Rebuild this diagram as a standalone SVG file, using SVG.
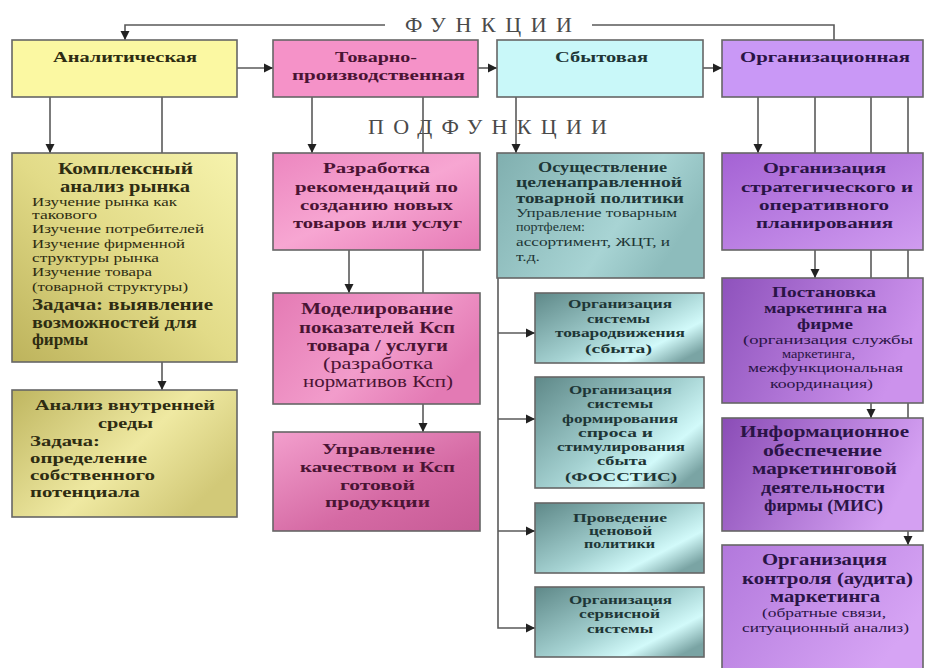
<svg xmlns="http://www.w3.org/2000/svg" width="925" height="668" viewBox="0 0 925 668">
<defs>
<style>
.box{stroke:#666;stroke-width:1.6}
.t{font-family:"Liberation Serif","Times New Roman",serif;font-weight:bold}
.s{font-family:"Liberation Serif","Times New Roman",serif;font-weight:normal}
.cy{fill:#2e2c12}
.cp{fill:#4a1434}
.ct{fill:#1e3636}
.cv{fill:#2a1446}
.hd{font-family:"Liberation Serif","Times New Roman",serif;fill:#4a4a4a;font-size:22px}
.ln{fill:none;stroke:#5a5a5a;stroke-width:1.6}
.ar{fill:none;stroke:#5a5a5a;stroke-width:1.6;marker-end:url(#ah)}
</style>
<marker id="ah" markerWidth="10" markerHeight="10" refX="9" refY="5" orient="auto" markerUnits="userSpaceOnUse">
<path d="M0,0.5 L9,5 L0,9.5 z" fill="#222"/>
</marker>
<linearGradient id="gy1" x1="1" y1="0" x2="0" y2="1">
<stop offset="0" stop-color="#f6f3ad"/><stop offset="0.5" stop-color="#e2db88"/><stop offset="1" stop-color="#bdb35c"/>
</linearGradient>
<linearGradient id="gy2" x1="0" y1="0" x2="1" y2="0.6">
<stop offset="0" stop-color="#bfb660"/><stop offset="0.6" stop-color="#efe9a2"/><stop offset="1" stop-color="#d2c978"/>
</linearGradient>
<linearGradient id="gp1" x1="0" y1="0" x2="1" y2="1">
<stop offset="0" stop-color="#ec86bf"/><stop offset="0.5" stop-color="#f7a6d2"/><stop offset="1" stop-color="#e67bb6"/>
</linearGradient>
<linearGradient id="gp2" x1="0" y1="0" x2="1" y2="0.5">
<stop offset="0" stop-color="#e47ab4"/><stop offset="0.6" stop-color="#f29ccb"/><stop offset="1" stop-color="#e37ab4"/>
</linearGradient>
<linearGradient id="gp3" x1="0" y1="0" x2="1" y2="1">
<stop offset="0" stop-color="#f39fcd"/><stop offset="0.6" stop-color="#d56aa4"/><stop offset="1" stop-color="#c75b96"/>
</linearGradient>
<linearGradient id="gt1" x1="0" y1="0" x2="1" y2="0.4">
<stop offset="0" stop-color="#80afaf"/><stop offset="0.7" stop-color="#a8d4d4"/><stop offset="1" stop-color="#8dbcbc"/>
</linearGradient>
<linearGradient id="gt2" x1="0" y1="0" x2="1" y2="0.8">
<stop offset="0" stop-color="#5e8888"/><stop offset="0.55" stop-color="#a5d2d2"/><stop offset="0.8" stop-color="#d2fafa"/><stop offset="1" stop-color="#7aa4a4"/>
</linearGradient>
<linearGradient id="gv1" x1="0" y1="0" x2="1" y2="1">
<stop offset="0" stop-color="#a462d4"/><stop offset="1" stop-color="#d09cf0"/>
</linearGradient>
<linearGradient id="gv2" x1="0" y1="0" x2="1" y2="0.3">
<stop offset="0" stop-color="#8e52bc"/><stop offset="1" stop-color="#cc92ec"/>
</linearGradient>
<linearGradient id="gv3" x1="0" y1="0" x2="1" y2="0.3">
<stop offset="0" stop-color="#8a4cb6"/><stop offset="1" stop-color="#d4a0f2"/>
</linearGradient>
<linearGradient id="gv4" x1="0" y1="0" x2="1" y2="0.5">
<stop offset="0" stop-color="#b278dc"/><stop offset="1" stop-color="#d6a4f4"/>
</linearGradient>
</defs>
<rect width="925" height="668" fill="#fff"/>

<g id="headings">
<text class="hd" x="405" y="32" textLength="167" lengthAdjust="spacing">ФУНКЦИИ</text>
<text class="hd" x="368" y="134" textLength="239" lengthAdjust="spacing">ПОДФУНКЦИИ</text>
</g>

<g id="connectors">
<polyline class="ar" points="385,25 125,25 125,40"/>
<polyline class="ln" points="592,25 834,25 834,40"/>
<line class="ar" x1="237" y1="68" x2="273" y2="68"/>
<line class="ar" x1="478" y1="68" x2="497" y2="68"/>
<line class="ar" x1="703" y1="68" x2="722" y2="68"/>
<line class="ar" x1="50" y1="97" x2="50" y2="153"/>
<line class="ln" x1="162" y1="97" x2="162" y2="153"/>
<line class="ar" x1="312" y1="97" x2="312" y2="153"/>
<line class="ln" x1="423" y1="97" x2="423" y2="153"/>
<line class="ar" x1="516" y1="97" x2="516" y2="153"/>
<line class="ar" x1="758" y1="97" x2="758" y2="153"/>
<line class="ln" x1="815" y1="97" x2="815" y2="153"/>
<line class="ln" x1="871" y1="97" x2="871" y2="153"/>
<line class="ln" x1="908" y1="97" x2="908" y2="153"/>
<line class="ar" x1="162" y1="362" x2="162" y2="390"/>
<line class="ar" x1="349" y1="250" x2="349" y2="293"/>
<line class="ln" x1="423" y1="250" x2="423" y2="293"/>
<line class="ar" x1="423" y1="404" x2="423" y2="432"/>
<polyline class="ar" points="498,278 498,628 535,628"/>
<line class="ar" x1="498" y1="333" x2="535" y2="333"/>
<line class="ar" x1="498" y1="419" x2="535" y2="419"/>
<line class="ar" x1="498" y1="531" x2="535" y2="531"/>
<line class="ar" x1="815" y1="250" x2="815" y2="278"/>
<line class="ln" x1="871" y1="250" x2="871" y2="278"/>
<line class="ln" x1="908" y1="250" x2="908" y2="278"/>
<line class="ar" x1="871" y1="403" x2="871" y2="418"/>
<line class="ln" x1="908" y1="403" x2="908" y2="418"/>
<line class="ar" x1="908" y1="531" x2="908" y2="545"/>
</g>

<g id="analytic">
<rect class="box" x="12" y="40" width="225" height="57" fill="#fbf8a2"/>
<text class="t cy" font-size="14" x="53" y="62" textLength="144" lengthAdjust="spacingAndGlyphs">Аналитическая</text>
</g>
<g id="tovarno">
<rect class="box" x="273" y="40" width="205" height="57" fill="#f592c8"/>
<text class="t cp" font-size="14" x="335" y="62" textLength="82" lengthAdjust="spacingAndGlyphs">Товарно-</text>
<text class="t cp" font-size="14" x="292" y="80" textLength="173" lengthAdjust="spacingAndGlyphs">производственная</text>
</g>
<g id="sbyt">
<rect class="box" x="497" y="40" width="206" height="57" fill="#c9f8f9"/>
<text class="t ct" font-size="14" x="555" y="62" textLength="93" lengthAdjust="spacingAndGlyphs">Сбытовая</text>
</g>
<g id="org">
<rect class="box" x="722" y="40" width="201" height="57" fill="#c998f6"/>
<text class="t cv" font-size="14" x="740" y="62" textLength="170" lengthAdjust="spacingAndGlyphs">Организационная</text>
</g>

<g id="kompleks">
<rect class="box" x="12" y="153" width="225" height="209" fill="url(#gy1)"/>
<g class="t cy" font-size="16.5">
<text x="58" y="174" textLength="135" lengthAdjust="spacingAndGlyphs">Комплексный</text>
<text x="60" y="192" textLength="130" lengthAdjust="spacingAndGlyphs">анализ рынка</text>
</g>
<g class="s cy" font-size="12.5">
<text x="32" y="206" textLength="145" lengthAdjust="spacingAndGlyphs">Изучение рынка как</text>
<text x="32" y="219" textLength="65" lengthAdjust="spacingAndGlyphs">такового</text>
<text x="32" y="233" textLength="172" lengthAdjust="spacingAndGlyphs">Изучение потребителей</text>
<text x="32" y="248" textLength="153" lengthAdjust="spacingAndGlyphs">Изучение фирменной</text>
<text x="32" y="262" textLength="127" lengthAdjust="spacingAndGlyphs">структуры рынка</text>
<text x="32" y="276" textLength="120" lengthAdjust="spacingAndGlyphs">Изучение товара</text>
<text x="32" y="291" textLength="156" lengthAdjust="spacingAndGlyphs">(товарной структуры)</text>
</g>
<g class="t cy" font-size="16">
<text x="32" y="310" textLength="181" lengthAdjust="spacingAndGlyphs">Задача: выявление</text>
<text x="32" y="328" textLength="165" lengthAdjust="spacingAndGlyphs">возможностей для</text>
<text x="32" y="345" textLength="56" lengthAdjust="spacingAndGlyphs">фирмы</text>
</g>
</g>

<g id="vnutr">
<rect class="box" x="12" y="390" width="225" height="127" fill="url(#gy2)"/>
<g class="t cy" font-size="15.5">
<text x="35" y="410" textLength="180" lengthAdjust="spacingAndGlyphs">Анализ внутренней</text>
<text x="98" y="428" textLength="55" lengthAdjust="spacingAndGlyphs">среды</text>
<text x="30" y="446" textLength="70" lengthAdjust="spacingAndGlyphs">Задача:</text>
<text x="30" y="463" textLength="117" lengthAdjust="spacingAndGlyphs">определение</text>
<text x="30" y="480" textLength="125" lengthAdjust="spacingAndGlyphs">собственного</text>
<text x="30" y="497" textLength="110" lengthAdjust="spacingAndGlyphs">потенциала</text>
</g>
</g>

<g id="razrab">
<rect class="box" x="273" y="153" width="207" height="97" fill="url(#gp1)"/>
<g class="t cp" font-size="15">
<text x="323" y="173" textLength="107" lengthAdjust="spacingAndGlyphs">Разработка</text>
<text x="295" y="192" textLength="163" lengthAdjust="spacingAndGlyphs">рекомендаций по</text>
<text x="300" y="210" textLength="153" lengthAdjust="spacingAndGlyphs">созданию новых</text>
<text x="293" y="228" textLength="169" lengthAdjust="spacingAndGlyphs">товаров или услуг</text>
</g>
</g>

<g id="model">
<rect class="box" x="273" y="293" width="207" height="111" fill="url(#gp2)"/>
<g class="t cp" font-size="16">
<text x="301" y="314" textLength="152" lengthAdjust="spacingAndGlyphs">Моделирование</text>
<text x="299" y="333" textLength="156" lengthAdjust="spacingAndGlyphs">показателей Ксп</text>
<text x="307" y="351" textLength="141" lengthAdjust="spacingAndGlyphs">товара / услуги</text>
</g>
<g class="s cp" font-size="16">
<text x="323" y="369" textLength="110" lengthAdjust="spacingAndGlyphs">(разработка</text>
<text x="303" y="387" textLength="150" lengthAdjust="spacingAndGlyphs">нормативов Ксп)</text>
</g>
</g>

<g id="upravl">
<rect class="box" x="273" y="432" width="207" height="99" fill="url(#gp3)"/>
<g class="t cp" font-size="15">
<text x="322" y="454" textLength="113" lengthAdjust="spacingAndGlyphs">Управление</text>
<text x="300" y="472" textLength="155" lengthAdjust="spacingAndGlyphs">качеством и Ксп</text>
<text x="340" y="490" textLength="75" lengthAdjust="spacingAndGlyphs">готовой</text>
<text x="325" y="507" textLength="105" lengthAdjust="spacingAndGlyphs">продукции</text>
</g>
</g>

<g id="osush">
<rect class="box" x="497" y="153" width="207" height="125" fill="url(#gt1)"/>
<g class="t ct" font-size="14">
<text x="538" y="172" textLength="129" lengthAdjust="spacingAndGlyphs">Осуществление</text>
<text x="516" y="187" textLength="166" lengthAdjust="spacingAndGlyphs">целенаправленной</text>
<text x="516" y="203" textLength="168" lengthAdjust="spacingAndGlyphs" font-size="15">товарной политики</text>
</g>
<g class="s ct" font-size="12.5">
<text x="516" y="217" textLength="161" lengthAdjust="spacingAndGlyphs">Управление товарным</text>
<text x="516" y="231" textLength="69" lengthAdjust="spacingAndGlyphs">портфелем:</text>
<text x="516" y="246" textLength="154" lengthAdjust="spacingAndGlyphs">ассортимент, ЖЦТ, и</text>
<text x="516" y="261" textLength="24" lengthAdjust="spacingAndGlyphs">т.д.</text>
</g>
</g>

<g id="tovarodv">
<rect class="box" x="535" y="293" width="169" height="70" fill="url(#gt2)"/>
<g class="t ct" font-size="12.5">
<text x="568" y="308" textLength="104" lengthAdjust="spacingAndGlyphs">Организация</text>
<text x="587" y="323" textLength="63" lengthAdjust="spacingAndGlyphs">системы</text>
<text x="555" y="337" textLength="130" lengthAdjust="spacingAndGlyphs">товародвижения</text>
<text x="585" y="353" textLength="67" lengthAdjust="spacingAndGlyphs">(сбыта)</text>
</g>
</g>

<g id="fosstis">
<rect class="box" x="535" y="377" width="169" height="111" fill="url(#gt2)"/>
<g class="t ct" font-size="12.5">
<text x="569" y="394" textLength="103" lengthAdjust="spacingAndGlyphs">Организация</text>
<text x="587" y="408" textLength="66" lengthAdjust="spacingAndGlyphs">системы</text>
<text x="562" y="423" textLength="116" lengthAdjust="spacingAndGlyphs">формирования</text>
<text x="578" y="437" textLength="75" lengthAdjust="spacingAndGlyphs">спроса и</text>
<text x="557" y="451" textLength="128" lengthAdjust="spacingAndGlyphs">стимулирования</text>
<text x="597" y="465" textLength="50" lengthAdjust="spacingAndGlyphs">сбыта</text>
<text x="565" y="481" textLength="112" lengthAdjust="spacingAndGlyphs" font-size="13.5">(ФОССТИС)</text>
</g>
</g>

<g id="cenovaya">
<rect class="box" x="535" y="503" width="169" height="70" fill="url(#gt2)"/>
<g class="t ct" font-size="12.5">
<text x="573" y="522" textLength="94" lengthAdjust="spacingAndGlyphs">Проведение</text>
<text x="589" y="535" textLength="63" lengthAdjust="spacingAndGlyphs">ценовой</text>
<text x="584" y="548" textLength="71" lengthAdjust="spacingAndGlyphs">политики</text>
</g>
</g>

<g id="servis">
<rect class="box" x="535" y="587" width="169" height="70" fill="url(#gt2)"/>
<g class="t ct" font-size="12.5">
<text x="569" y="604" textLength="103" lengthAdjust="spacingAndGlyphs">Организация</text>
<text x="579" y="618" textLength="81" lengthAdjust="spacingAndGlyphs">сервисной</text>
<text x="587" y="633" textLength="66" lengthAdjust="spacingAndGlyphs">системы</text>
</g>
</g>

<g id="strateg">
<rect class="box" x="722" y="153" width="201" height="97" fill="url(#gv1)"/>
<g class="t cv" font-size="15.5">
<text x="763" y="173" textLength="123" lengthAdjust="spacingAndGlyphs">Организация</text>
<text x="741" y="192" textLength="172" lengthAdjust="spacingAndGlyphs">стратегического и</text>
<text x="759" y="210" textLength="130" lengthAdjust="spacingAndGlyphs">оперативного</text>
<text x="756" y="228" textLength="137" lengthAdjust="spacingAndGlyphs">планирования</text>
</g>
</g>

<g id="postanovka">
<rect class="box" x="722" y="278" width="201" height="125" fill="url(#gv2)"/>
<g class="t cv" font-size="15">
<text x="772" y="297" textLength="104" lengthAdjust="spacingAndGlyphs">Постановка</text>
<text x="764" y="313" textLength="123" lengthAdjust="spacingAndGlyphs">маркетинга на</text>
<text x="797" y="329" textLength="56" lengthAdjust="spacingAndGlyphs">фирме</text>
</g>
<g class="s cv" font-size="12.5">
<text x="743" y="344" textLength="170" lengthAdjust="spacingAndGlyphs">(организация службы</text>
<text x="782" y="358" textLength="73" lengthAdjust="spacingAndGlyphs">маркетинга,</text>
<text x="748" y="372" textLength="155" lengthAdjust="spacingAndGlyphs">межфункциональная</text>
<text x="770" y="388" textLength="103" lengthAdjust="spacingAndGlyphs">координация)</text>
</g>
</g>

<g id="mis">
<rect class="box" x="722" y="418" width="201" height="113" fill="url(#gv3)"/>
<g class="t cv" font-size="16">
<text x="740" y="437" textLength="169" lengthAdjust="spacingAndGlyphs">Информационное</text>
<text x="763" y="456" textLength="119" lengthAdjust="spacingAndGlyphs">обеспечение</text>
<text x="752" y="474" textLength="145" lengthAdjust="spacingAndGlyphs">маркетинговой</text>
<text x="761" y="493" textLength="124" lengthAdjust="spacingAndGlyphs">деятельности</text>
<text x="764" y="511" textLength="119" lengthAdjust="spacingAndGlyphs">фирмы (МИС)</text>
</g>
</g>

<g id="kontrol">
<rect class="box" x="722" y="545" width="201" height="130" fill="url(#gv4)"/>
<g class="t cv" font-size="16">
<text x="762" y="565" textLength="125" lengthAdjust="spacingAndGlyphs">Организация</text>
<text x="742" y="584" textLength="171" lengthAdjust="spacingAndGlyphs">контроля (аудита)</text>
<text x="770" y="602" textLength="110" lengthAdjust="spacingAndGlyphs">маркетинга</text>
</g>
<g class="s cv" font-size="13">
<text x="762" y="617" textLength="124" lengthAdjust="spacingAndGlyphs">(обратные связи,</text>
<text x="742" y="632" textLength="167" lengthAdjust="spacingAndGlyphs">ситуационный анализ)</text>
</g>
</g>
</svg>
